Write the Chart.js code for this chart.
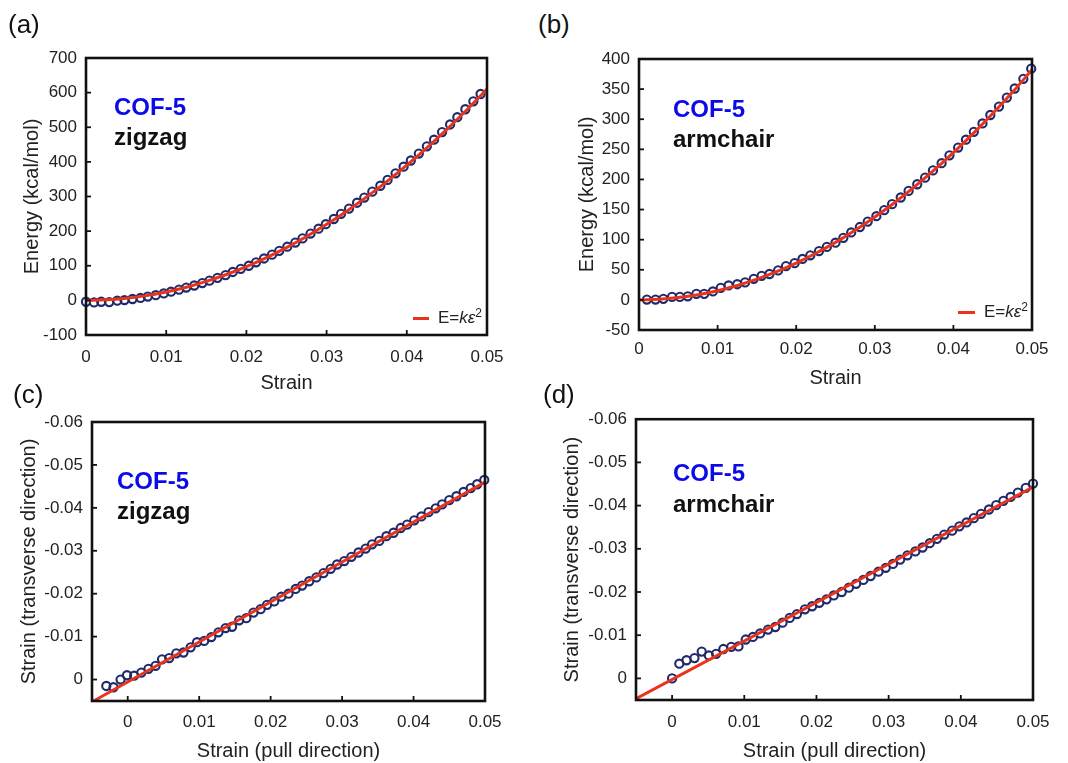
<!DOCTYPE html>
<html>
<head>
<meta charset="utf-8">
<script src="https://cdn.jsdelivr.net/npm/chart.js@4.4.1/dist/chart.umd.min.js"></script>
<style>
  body { margin: 0; background: #fff; font-family: 'Liberation Sans', Arial, sans-serif; }
  #page { position: relative; width: 1068px; height: 763px; overflow: hidden; }
  canvas { position: absolute; }
  .tag { position: absolute; font-size: 26px; line-height: 26px; color: #111; }
  .cof { position: absolute; font-size: 24px; line-height: 24px; font-weight: bold; color: #0b0be8; }
  .dir { position: absolute; font-size: 24px; line-height: 24px; font-weight: bold; color: #111; }
  .leg { position: absolute; font-size: 17px; line-height: 20px; color: #222; }
  .leg sup { font-size: 12px; vertical-align: 6px; line-height: 0; }
  .legline { position: absolute; height: 3px; background: #e8341c; }
</style>
</head>
<body>
<div id="page">
  <canvas id="chartA" width="517" height="362" style="left:0px;top:38px"></canvas>
  <canvas id="chartB" width="532" height="361" style="left:530px;top:39px"></canvas>
  <canvas id="chartC" width="515" height="361" style="left:0px;top:402px"></canvas>
  <canvas id="chartD" width="533" height="363" style="left:530px;top:400px"></canvas>

  <div class="tag" style="left:8px;top:11px">(a)</div>
  <div class="tag" style="left:538px;top:11px">(b)</div>
  <div class="tag" style="left:13px;top:381px">(c)</div>
  <div class="tag" style="left:543px;top:381px">(d)</div>

  <div class="cof" style="left:114px;top:95px">COF-5</div>
  <div class="dir" style="left:114px;top:125px">zigzag</div>
  <div class="cof" style="left:673px;top:97px">COF-5</div>
  <div class="dir" style="left:673px;top:127px">armchair</div>
  <div class="cof" style="left:117px;top:469px">COF-5</div>
  <div class="dir" style="left:117px;top:499px">zigzag</div>
  <div class="cof" style="left:673px;top:461px">COF-5</div>
  <div class="dir" style="left:673px;top:492px">armchair</div>

  <div class="legline" style="left:413px;top:317px;width:16px"></div>
  <div class="leg" style="left:438px;top:308px">E=<i>kε</i><sup>2</sup></div>
  <div class="legline" style="left:958px;top:311px;width:17px"></div>
  <div class="leg" style="left:984px;top:302px">E=<i>kε</i><sup>2</sup></div>
</div>

<script>
// (a) zigzag energy vs strain
const strainA = [0.0000, 0.0010, 0.0019, 0.0029, 0.0039, 0.0048, 0.0058, 0.0068, 0.0077, 0.0087,
  0.0097, 0.0106, 0.0116, 0.0125, 0.0135, 0.0145, 0.0154, 0.0164, 0.0174, 0.0183,
  0.0193, 0.0203, 0.0212, 0.0222, 0.0232, 0.0241, 0.0251, 0.0261, 0.0270, 0.0280,
  0.0290, 0.0299, 0.0309, 0.0318, 0.0328, 0.0338, 0.0347, 0.0357, 0.0367, 0.0376,
  0.0386, 0.0396, 0.0405, 0.0415, 0.0425, 0.0434, 0.0444, 0.0454, 0.0463, 0.0473,
  0.0483, 0.0492];
const energyA = [-4, -6, -4, -5, -1, 1, 4, 7, 11, 15,
  20, 25, 31, 37, 43, 50, 57, 65, 73, 82,
  91, 100, 110, 121, 132, 143, 155, 167, 179, 193,
  207, 220, 235, 250, 265, 282, 297, 314, 331, 348,
  367, 386, 404, 424, 445, 464, 486, 508, 529, 552,
  575, 596];
const fitStrainA = [0, 0.0025, 0.005, 0.0075, 0.01, 0.0125, 0.015, 0.0175, 0.02, 0.0225, 0.025,
  0.0275, 0.03, 0.0325, 0.035, 0.0375, 0.04, 0.0425, 0.045, 0.0475, 0.05];
const fitEnergyA = [0, 1.5, 6.1, 13.7, 24.4, 38.1, 54.9, 74.7, 97.6, 123.5, 152.5,
  184.5, 219.6, 257.7, 298.9, 343.1, 390.4, 440.7, 494.1, 550.5, 610.0];

// (b) armchair energy vs strain
const strainB = [0.0010, 0.0021, 0.0031, 0.0042, 0.0052, 0.0062, 0.0073, 0.0083, 0.0094, 0.0104,
  0.0114, 0.0125, 0.0135, 0.0146, 0.0156, 0.0166, 0.0177, 0.0187, 0.0198, 0.0208,
  0.0218, 0.0229, 0.0239, 0.0250, 0.0260, 0.0270, 0.0281, 0.0291, 0.0302, 0.0312,
  0.0322, 0.0333, 0.0343, 0.0354, 0.0364, 0.0374, 0.0385, 0.0395, 0.0406, 0.0416,
  0.0426, 0.0437, 0.0447, 0.0458, 0.0468, 0.0478, 0.0489, 0.0499];
const energyB = [0.6, 0.6, 1.7, 5, 5, 6, 10, 10, 14, 20,
  24, 26, 29, 35, 40, 43, 49, 56, 61, 68,
  74, 81, 88, 95, 103, 112, 121, 130, 139, 149,
  159, 170, 181, 192, 203, 215, 227, 240, 253, 266,
  279, 293, 307, 321, 336, 351, 367, 384];
const fitStrainB = [0, 0.0025, 0.005, 0.0075, 0.01, 0.0125, 0.015, 0.0175, 0.02, 0.0225, 0.025,
  0.0275, 0.03, 0.0325, 0.035, 0.0375, 0.04, 0.0425, 0.045, 0.0475, 0.05];
const fitEnergyB = [0, 0.96, 3.8, 8.6, 15.3, 23.9, 34.4, 46.8, 61.1, 77.4, 95.5,
  115.6, 137.5, 161.4, 187.2, 214.9, 244.5, 276.0, 309.4, 344.7, 382.0];

// (c) zigzag transverse vs pull strain
const pullC = [-0.0030, -0.0020, -0.0010, -0.0001, 0.0009, 0.0019, 0.0029, 0.0039, 0.0048, 0.0058,
  0.0068, 0.0078, 0.0088, 0.0097, 0.0107, 0.0117, 0.0127, 0.0137, 0.0146, 0.0156,
  0.0166, 0.0176, 0.0186, 0.0195, 0.0205, 0.0215, 0.0225, 0.0235, 0.0244, 0.0254,
  0.0264, 0.0274, 0.0284, 0.0293, 0.0303, 0.0313, 0.0323, 0.0333, 0.0342, 0.0352,
  0.0362, 0.0372, 0.0382, 0.0391, 0.0401, 0.0411, 0.0421, 0.0431, 0.0440, 0.0450,
  0.0460, 0.0470, 0.0480, 0.0489, 0.0499];
const transC = [0.0015, 0.0018, 0.0000, -0.0010, -0.0009, -0.0016, -0.0025, -0.0032, -0.0047, -0.0050,
  -0.0061, -0.0063, -0.0075, -0.0087, -0.0090, -0.0099, -0.0110, -0.0120, -0.0123, -0.0138,
  -0.0143, -0.0156, -0.0164, -0.0174, -0.0182, -0.0193, -0.0200, -0.0211, -0.0219, -0.0229,
  -0.0238, -0.0248, -0.0258, -0.0268, -0.0276, -0.0286, -0.0296, -0.0305, -0.0315, -0.0323,
  -0.0334, -0.0342, -0.0353, -0.0361, -0.0371, -0.0380, -0.0390, -0.0399, -0.0408, -0.0418,
  -0.0427, -0.0437, -0.0446, -0.0455, -0.0465];
const fitPullC = [-0.005, 0.05];
const fitTransC = [0.0052, -0.0460];

// (d) armchair transverse vs pull strain
const pullD = [0.0000, 0.0010, 0.0020, 0.0031, 0.0041, 0.0051, 0.0061, 0.0071, 0.0082, 0.0092,
  0.0102, 0.0112, 0.0122, 0.0133, 0.0143, 0.0153, 0.0163, 0.0173, 0.0184, 0.0194,
  0.0204, 0.0214, 0.0224, 0.0235, 0.0245, 0.0255, 0.0265, 0.0275, 0.0286, 0.0296,
  0.0306, 0.0316, 0.0326, 0.0337, 0.0347, 0.0357, 0.0367, 0.0377, 0.0388, 0.0398,
  0.0408, 0.0418, 0.0428, 0.0439, 0.0449, 0.0459, 0.0469, 0.0479, 0.0490, 0.0500];
const transD = [0.0000, -0.0034, -0.0042, -0.0047, -0.0062, -0.0053, -0.0057, -0.0068, -0.0073, -0.0074,
  -0.0090, -0.0096, -0.0104, -0.0113, -0.0119, -0.0129, -0.0140, -0.0149, -0.0160, -0.0167,
  -0.0175, -0.0183, -0.0192, -0.0200, -0.0210, -0.0219, -0.0228, -0.0237, -0.0247, -0.0256,
  -0.0265, -0.0275, -0.0285, -0.0294, -0.0303, -0.0313, -0.0323, -0.0333, -0.0342, -0.0352,
  -0.0361, -0.0371, -0.0381, -0.0391, -0.0401, -0.0411, -0.0420, -0.0430, -0.0441, -0.0451];
const fitPullD = [-0.005, 0.05];
const fitTransD = [0.0047, -0.0443];

// tick values
const strainTicks = [0, 0.01, 0.02, 0.03, 0.04, 0.05];
const energyTicksA = [-100, 0, 100, 200, 300, 400, 500, 600, 700];
const energyTicksB = [-50, 0, 50, 100, 150, 200, 250, 300, 350, 400];
const transTicks = [-0.06, -0.05, -0.04, -0.03, -0.02, -0.01, 0];

const RED = '#e8341c';
const NAVY = '#1f2a6b';
const FONT = "'Liberation Sans', Arial, sans-serif";

function toPoints(xs, ys) {
  return xs.map((x, i) => ({ x: x, y: ys[i] }));
}

function fmt(v) {
  return String(Number(v.toFixed(6)));
}

// box around the plot plus small inward ticks
const framePlugin = {
  id: 'frame',
  afterDatasetsDraw(chart) {
    const { ctx, chartArea: a, scales } = chart;
    ctx.save();
    ctx.strokeStyle = '#111';
    ctx.lineWidth = 1.8;
    scales.x.ticks.forEach(t => {
      const px = scales.x.getPixelForValue(t.value);
      ctx.beginPath(); ctx.moveTo(px, a.bottom); ctx.lineTo(px, a.bottom - 5); ctx.stroke();
    });
    scales.y.ticks.forEach(t => {
      const py = scales.y.getPixelForValue(t.value);
      ctx.beginPath(); ctx.moveTo(a.left, py); ctx.lineTo(a.left + 5, py); ctx.stroke();
    });
    ctx.lineWidth = 2.6;
    ctx.strokeRect(a.left, a.top, a.right - a.left, a.bottom - a.top);
    ctx.restore();
  }
};

function makePanel(id, p) {
  const ctx = document.getElementById(id).getContext('2d');
  return new Chart(ctx, {
    type: 'scatter',
    data: {
      datasets: [
        {
          data: toPoints(p.fitX, p.fitY),
          showLine: true,
          borderColor: RED,
          borderWidth: 3,
          pointRadius: 0,
          cubicInterpolationMode: 'monotone',
          order: 0
        },
        {
          data: toPoints(p.xs, p.ys),
          showLine: false,
          pointRadius: 4.1,
          pointBorderWidth: 2.1,
          pointBorderColor: NAVY,
          pointBackgroundColor: 'rgba(0,0,0,0)',
          clip: 6,
          order: 1
        }
      ]
    },
    options: {
      responsive: false,
      animation: false,
      devicePixelRatio: 1,
      layout: { padding: p.pad },
      plugins: { legend: { display: false }, tooltip: { enabled: false } },
      scales: {
        x: {
          type: 'linear',
          min: p.xMin, max: p.xMax,
          grid: { display: false, drawTicks: false },
          border: { display: false },
          afterBuildTicks: s => { s.ticks = p.xTicks.map(v => ({ value: v })); },
          afterFit: s => { s.height = p.xHeight; },
          ticks: {
            padding: p.xTickPad, color: '#222', maxRotation: 0, autoSkip: false,
            font: { family: FONT, size: 17 },
            callback: v => fmt(v)
          },
          title: {
            display: true, text: p.xTitle, color: '#222',
            font: { family: FONT, size: 20 },
            padding: { top: 0, bottom: p.xTitlePad }
          }
        },
        y: {
          type: 'linear',
          min: p.yMin, max: p.yMax,
          reverse: !!p.reverse,
          grid: { display: false, drawTicks: false },
          border: { display: false },
          afterBuildTicks: s => { s.ticks = p.yTicks.map(v => ({ value: v })); },
          afterFit: s => { s.width = p.yWidth; },
          ticks: {
            padding: 9, color: '#222', autoSkip: false,
            font: { family: FONT, size: 17 },
            callback: v => fmt(v)
          },
          title: {
            display: true, text: p.yTitle, color: '#222',
            font: { family: FONT, size: 20 },
            padding: { top: p.yTitlePad, bottom: 0 }
          }
        }
      }
    },
    plugins: [framePlugin]
  });
}

makePanel('chartA', {
  xs: strainA, ys: energyA, fitX: fitStrainA, fitY: fitEnergyA,
  xMin: 0, xMax: 0.05, yMin: -100, yMax: 700,
  xTicks: strainTicks, yTicks: energyTicksA,
  xTitle: 'Strain', yTitle: 'Energy (kcal/mol)',
  pad: { left: 0, top: 20, right: 30, bottom: 0 },
  yWidth: 86, xHeight: 65, xTickPad: 12, xTitlePad: 5, yTitlePad: 20
});

makePanel('chartB', {
  xs: strainB, ys: energyB, fitX: fitStrainB, fitY: fitEnergyB,
  xMin: 0, xMax: 0.05, yMin: -50, yMax: 400,
  xTicks: strainTicks, yTicks: energyTicksB,
  xTitle: 'Strain', yTitle: 'Energy (kcal/mol)',
  pad: { left: 0, top: 20, right: 30, bottom: 0 },
  yWidth: 109, xHeight: 70, xTickPad: 9, xTitlePad: 10, yTitlePad: 45
});

makePanel('chartC', {
  xs: pullC, ys: transC, fitX: fitPullC, fitY: fitTransC,
  xMin: -0.005, xMax: 0.05, yMin: -0.06, yMax: 0.005, reverse: true,
  xTicks: strainTicks, yTicks: transTicks,
  xTitle: 'Strain (pull direction)', yTitle: 'Strain (transverse direction)',
  pad: { left: 0, top: 20, right: 30, bottom: 0 },
  yWidth: 92, xHeight: 62, xTickPad: 11, xTitlePad: 0, yTitlePad: 17
});

makePanel('chartD', {
  xs: pullD, ys: transD, fitX: fitPullD, fitY: fitTransD,
  xMin: -0.005, xMax: 0.05, yMin: -0.06, yMax: 0.005, reverse: true,
  xTicks: strainTicks, yTicks: transTicks,
  xTitle: 'Strain (pull direction)', yTitle: 'Strain (transverse direction)',
  pad: { left: 0, top: 19, right: 30, bottom: 0 },
  yWidth: 106, xHeight: 63, xTickPad: 12, xTitlePad: 0, yTitlePad: 30
});
</script>
</body>
</html>
